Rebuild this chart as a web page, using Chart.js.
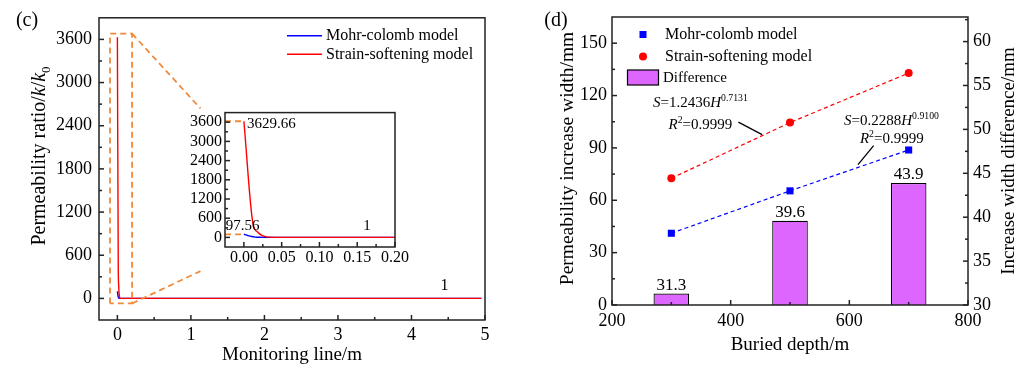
<!DOCTYPE html>
<html>
<head>
<meta charset="utf-8">
<script src="https://cdn.jsdelivr.net/npm/chart.js@4.4.1/dist/chart.umd.min.js"></script>
<style>
  html, body { margin: 0; padding: 0; background: #fff; }
  #wrap { position: relative; width: 1026px; height: 367px; overflow: hidden; }
  canvas { position: absolute; }
</style>
</head>
<body>
<div id="wrap">
  <canvas id="cMain" width="513" height="367" style="left:0;top:0"></canvas>
  <canvas id="cInset" width="235" height="170" style="left:175px;top:100px"></canvas>
  <canvas id="dChart" width="513" height="367" style="left:513px;top:0"></canvas>
</div>
<script>
// panel (c): permeability ratio along the monitoring line
const mcDist = [0, 0.005, 0.01, 0.015, 0.02, 0.03, 4.95];
const mcRatio = [97.56, 60, 28, 10, 3, 1, 1];
const ssDist = [0, 0.012, 0.018, 0.024, 0.03, 0.04, 4.95];
const ssRatio = [3629.66, 430, 170, 60, 15, 1, 1];
const cXTicks = [0, 1, 2, 3, 4, 5];
const cYTicks = [0, 600, 1200, 1800, 2400, 3000, 3600];
const insetXTicks = [0, 0.05, 0.1, 0.15, 0.2];

// panel (d): permeability increase width vs buried depth
const depths = [300, 500, 700];
const mcWidth = [41.1, 65.4, 88.8];
const ssWidth = [72.6, 104.5, 132.9];
const widthDiff = [31.3, 39.6, 43.9];
const dXTicks = [200, 400, 600, 800];
const dYTicks = [0, 30, 60, 90, 120, 150];
const dY2Ticks = [30, 35, 40, 45, 50, 55, 60];

const FAMILY = "'Liberation Serif', 'Times New Roman', serif";
const BLUE = '#0000ff', RED = '#ff0000', ORANGE = '#f08a3c', VIOLET = '#dd66ff';
const font = (size, it) => (it ? 'italic ' : '') + size + 'px ' + FAMILY;

// text made of runs (italic / sub / sup), centred or left aligned at x,y
function richText(ctx, runs, x, y, size, opts = {}) {
  ctx.save();
  ctx.translate(x, y);
  if (opts.rot) ctx.rotate(opts.rot);
  ctx.fillStyle = '#000';
  ctx.textBaseline = 'alphabetic';
  ctx.textAlign = 'left';
  const sz = r => (r.sub || r.sup) ? size * 0.65 : size;
  let w = 0;
  runs.forEach(r => { ctx.font = font(sz(r), r.it); r.w = ctx.measureText(r.t).width; w += r.w; });
  let cx = opts.left ? 0 : -w / 2;
  runs.forEach(r => {
    ctx.font = font(sz(r), r.it);
    let dy = size * 0.33;
    if (r.sub) dy += size * 0.25;
    if (r.sup) dy -= size * 0.4;
    ctx.fillText(r.t, cx, dy);
    cx += r.w;
  });
  ctx.restore();
}

function text(ctx, t, x, y, size, align) {
  ctx.save();
  ctx.font = font(size);
  ctx.fillStyle = '#000';
  ctx.textAlign = align || 'center';
  ctx.textBaseline = 'middle';
  ctx.fillText(t, x, y);
  ctx.restore();
}

function dashed(ctx, pts, color, width, dash) {
  ctx.save();
  ctx.strokeStyle = color;
  ctx.lineWidth = width;
  ctx.setLineDash(dash);
  ctx.beginPath();
  pts.forEach((p, i) => i ? ctx.lineTo(p[0], p[1]) : ctx.moveTo(p[0], p[1]));
  ctx.stroke();
  ctx.restore();
}

// box round the plot and inward tick marks (major + minor)
const frame = {
  id: 'frame',
  afterDraw(chart) {
    const { ctx, chartArea: a } = chart;
    ctx.save();
    ctx.strokeStyle = '#222';
    ctx.lineWidth = 1.5;
    ctx.strokeRect(a.left, a.top, a.right - a.left, a.bottom - a.top);
    Object.values(chart.scales).forEach(s => {
      const vals = s.ticks.map(t => t.value);
      const step = vals[1] - vals[0];
      const minors = [];
      for (let v = vals[0] - step / 2; v <= s.max + 1e-9; v += step) {
        if (v > s.min + 1e-9 && v < s.max - 1e-9) minors.push(v);
      }
      const mark = (v, len) => {
        const p = s.getPixelForValue(v);
        ctx.beginPath();
        if (s.position === 'bottom') { ctx.moveTo(p, a.bottom); ctx.lineTo(p, a.bottom - len); }
        else if (s.position === 'left') { ctx.moveTo(a.left, p); ctx.lineTo(a.left + len, p); }
        else { ctx.moveTo(a.right, p); ctx.lineTo(a.right - len, p); }
        ctx.stroke();
      };
      vals.forEach(v => mark(v, 5));
      minors.forEach(v => mark(v, 3));
    });
    ctx.restore();
  }
};

function fixedTicks(list) {
  return s => { s.ticks = list.map(v => ({ value: v })); };
}

function axis(min, max, ticks, size, fit, extra, pad, fmt) {
  return Object.assign({
    type: 'linear', min, max,
    grid: { display: false, drawTicks: false },
    border: { display: false },
    afterBuildTicks: fixedTicks(ticks),
    afterFit: fit,
    ticks: { autoSkip: false, color: '#000', font: { family: FAMILY, size }, padding: pad == null ? 6 : pad,
      callback: fmt || (v => String(v)) }
  }, extra || {});
}

function lineData(xs, ys) { return xs.map((x, i) => ({ x, y: ys[i] })); }

function permSets() {
  return [
    { label: 'Strain-softening model', data: lineData(ssDist, ssRatio), borderColor: RED,
      borderWidth: 1.4, pointRadius: 0, cubicInterpolationMode: 'monotone' },
    { label: 'Mohr-colomb model', data: lineData(mcDist, mcRatio), borderColor: BLUE,
      borderWidth: 1.4, pointRadius: 0, cubicInterpolationMode: 'monotone' }
  ];
}

// ---------- panel (c) main
const cDeco = {
  id: 'cDeco',
  afterDraw(chart) {
    const { ctx, chartArea: a } = chart;
    const X = v => chart.scales.x.getPixelForValue(v);
    const Y = v => chart.scales.y.getPixelForValue(v);
    // zoom window and leaders to the inset
    dashed(ctx, [[X(-0.1), Y(-70)], [X(-0.1), Y(3680)], [X(0.2), Y(3680)], [X(0.2), Y(-70)], [X(-0.1), Y(-70)]], ORANGE, 1.8, [6, 4]);
    dashed(ctx, [[X(0.2), Y(3680)], [X(1.13), Y(2640)]], ORANGE, 1.8, [6, 4]);
    dashed(ctx, [[X(0.2), Y(-70)], [X(1.13), Y(380)]], ORANGE, 1.8, [6, 4]);
    text(ctx, String(ssRatio[ssRatio.length - 1]), X(4.45), Y(180), 16);
    // legend
    [[BLUE, 'Mohr-colomb model', 18], [RED, 'Strain-softening model', 36.5]].forEach(([c, t, dy]) => {
      ctx.save();
      ctx.strokeStyle = c; ctx.lineWidth = 1.5;
      ctx.beginPath(); ctx.moveTo(a.left + 188, a.top + dy); ctx.lineTo(a.left + 223, a.top + dy); ctx.stroke();
      ctx.restore();
      text(ctx, t, a.left + 227, a.top + dy, 16, 'left');
    });
    // titles
    text(ctx, 'Monitoring line/m', (a.left + a.right) / 2, 355, 19);
    richText(ctx, [{ t: 'Permeability ratio/' }, { t: 'k', it: true }, { t: '/' }, { t: 'k', it: true }, { t: '0', sub: true }],
      38, 156, 20, { rot: -Math.PI / 2 });
    text(ctx, '(c)', 27, 21, 20);
  }
};

new Chart(document.getElementById('cMain'), {
  type: 'line',
  data: { datasets: permSets() },
  options: {
    responsive: false, animation: false,
    layout: { padding: { top: 13, right: 28, left: 0, bottom: 0 } },
    plugins: { legend: { display: false }, tooltip: { enabled: false } },
    scales: {
      x: axis(-0.25, 5, cXTicks, 18, s => { s.height = 47; }, { position: 'bottom' }, 4),
      y: axis(-300, 3900, cYTicks, 18, s => { s.width = 99; }, { position: 'left' }, 7)
    }
  },
  plugins: [frame, cDeco]
});

// ---------- panel (c) inset
const insetDeco = {
  id: 'insetDeco',
  beforeDraw(chart) {
    const { ctx, chartArea: a } = chart;
    ctx.save(); ctx.fillStyle = '#fff';
    ctx.fillRect(a.left, a.top, a.right - a.left, a.bottom - a.top);
    ctx.restore();
  },
  afterDraw(chart) {
    const { ctx } = chart;
    const X = v => chart.scales.x.getPixelForValue(v);
    const Y = v => chart.scales.y.getPixelForValue(v);
    dashed(ctx, [[X(-0.025), Y(ssRatio[0])], [X(0), Y(ssRatio[0])]], ORANGE, 1.8, [6, 4]);
    dashed(ctx, [[X(-0.025), Y(mcRatio[0])], [X(0), Y(mcRatio[0])]], ORANGE, 1.8, [6, 4]);
    text(ctx, ssRatio[0].toFixed(2), X(0.004), Y(ssRatio[0]) + 3, 15, 'left');
    text(ctx, mcRatio[0].toFixed(2), X(-0.024), Y(mcRatio[0]) - 8, 15, 'left');
    text(ctx, String(ssRatio[ssRatio.length - 1]), X(0.163), Y(mcRatio[0]) - 8, 15);
  }
};

new Chart(document.getElementById('cInset'), {
  type: 'line',
  data: { datasets: permSets() },
  options: {
    responsive: false, animation: false,
    layout: { padding: { top: 8, right: 10, left: 0, bottom: 0 } },
    plugins: { legend: { display: false }, tooltip: { enabled: false } },
    scales: {
      x: axis(-0.025, 0.2, insetXTicks, 16, s => { s.height = 23; }, { position: 'bottom' }, 1, v => v.toFixed(2)),
      y: axis(-300, 3900, cYTicks, 16, s => { s.width = 50; }, { position: 'left' }, 3)
    }
  },
  plugins: [insetDeco, frame]
});

// ---------- panel (d)
const dDeco = {
  id: 'dDeco',
  afterDraw(chart) {
    const { ctx, chartArea: a } = chart;
    const X = v => chart.scales.x.getPixelForValue(v);
    const Y = v => chart.scales.y.getPixelForValue(v);
    // bar value labels
    chart.getDatasetMeta(2).data.forEach((bar, i) => text(ctx, widthDiff[i].toFixed(1), bar.x, bar.y - 8, 17));
    // fitted power laws
    richText(ctx, [{ t: 'S', it: true }, { t: '=1.2436' }, { t: 'H', it: true }, { t: '0.7131', sup: true }], X(349), Y(116), 15);
    richText(ctx, [{ t: 'R', it: true }, { t: '2', sup: true }, { t: '=0.9999' }], X(349), Y(103.9), 15);
    dashed(ctx, [[X(413), Y(104.8)], [X(453), Y(97.6)]], '#000', 1.3, []);
    richText(ctx, [{ t: 'S', it: true }, { t: '=0.2288' }, { t: 'H', it: true }, { t: '0.9100', sup: true }], X(671), Y(106.2), 15);
    richText(ctx, [{ t: 'R', it: true }, { t: '2', sup: true }, { t: '=0.9999' }], X(671.6), Y(95.9), 15);
    dashed(ctx, [[X(641), Y(91.3)], [X(614.6), Y(80.4)]], '#000', 1.3, []);
    // legend
    ctx.save();
    ctx.fillStyle = BLUE; ctx.fillRect(a.left + 27.5, a.top + 14, 7, 7);
    ctx.fillStyle = RED; ctx.beginPath(); ctx.arc(a.left + 31, a.top + 39.5, 4, 0, Math.PI * 2); ctx.fill();
    ctx.fillStyle = VIOLET; ctx.strokeStyle = '#000'; ctx.lineWidth = 1.2;
    ctx.fillRect(a.left + 15.5, a.top + 53, 31, 15); ctx.strokeRect(a.left + 15.5, a.top + 53, 31, 15);
    ctx.restore();
    text(ctx, 'Mohr-colomb model', a.left + 53, a.top + 18, 16, 'left');
    text(ctx, 'Strain-softening model', a.left + 53, a.top + 40, 16, 'left');
    text(ctx, 'Difference', a.left + 51, a.top + 61, 15, 'left');
    // titles
    text(ctx, 'Buried depth/m', (a.left + a.right) / 2, 345, 19);
    richText(ctx, [{ t: 'Permeability increase width/mm' }], 54, 158.5, 19.5, { rot: -Math.PI / 2 });
    richText(ctx, [{ t: 'Increase width difference/mm' }], 495, 161, 19, { rot: -Math.PI / 2 });
    text(ctx, '(d)', 43, 21, 20);
  }
};

new Chart(document.getElementById('dChart'), {
  type: 'scatter',
  data: {
    datasets: [
      { label: 'Mohr-colomb model', data: lineData(depths, mcWidth), yAxisID: 'y', showLine: true,
        borderColor: BLUE, borderWidth: 1.2, borderDash: [4, 3], backgroundColor: BLUE,
        pointStyle: 'rect', pointRadius: 5, pointBorderWidth: 0 },
      { label: 'Strain-softening model', data: lineData(depths, ssWidth), yAxisID: 'y', showLine: true,
        borderColor: RED, borderWidth: 1.2, borderDash: [4, 3], backgroundColor: RED,
        pointStyle: 'circle', pointRadius: 4, pointBorderWidth: 0 },
      { type: 'bar', label: 'Difference', data: lineData(depths, widthDiff), yAxisID: 'y2',
        backgroundColor: VIOLET, borderColor: '#000', borderWidth: 1.2,
        barPercentage: 0.3, categoryPercentage: 1 }
    ]
  },
  options: {
    responsive: false, animation: false,
    layout: { padding: { top: 17, right: 0, left: 0, bottom: 0 } },
    plugins: { legend: { display: false }, tooltip: { enabled: false } },
    scales: {
      x: axis(200, 800, dXTicks, 18, s => { s.height = 62; }, { position: 'bottom', offset: false }, 5),
      y: axis(0, 165, dYTicks, 18, s => { s.width = 99; }, { position: 'left' }, 5),
      y2: axis(30, 62.8, dY2Ticks, 18, s => { s.width = 58; }, { position: 'right' }, 5)
    }
  },
  plugins: [frame, dDeco]
});
</script>
</body>
</html>
